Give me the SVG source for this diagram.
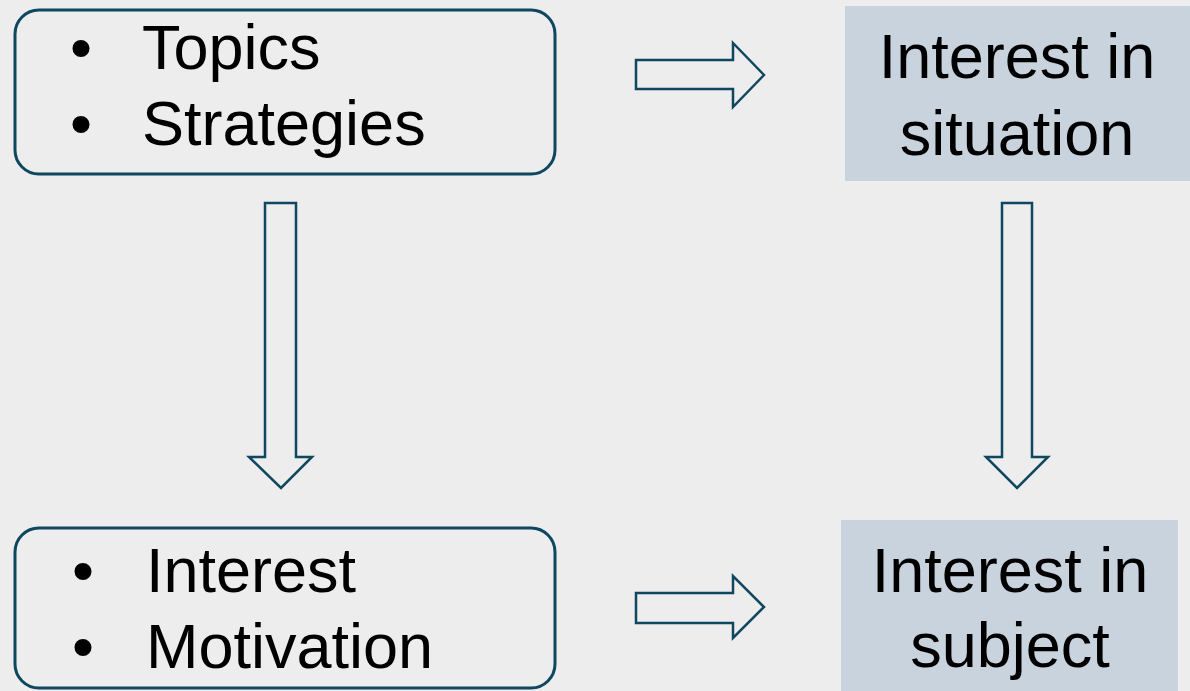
<svg xmlns="http://www.w3.org/2000/svg" width="1190" height="691" viewBox="0 0 1190 691">
<style>
.box{fill:none;stroke:#0f4761;stroke-width:3}
.tag{fill:#c8d3dd}
.arr{fill:none;stroke:#0f4761;stroke-width:2.5;stroke-linejoin:miter}
text{font-family:"Liberation Sans",Arial,sans-serif;font-size:63px;fill:#000}
.c{text-anchor:middle}
</style>
<rect width="1190" height="691" fill="#ededed"/>
<g id="node-topics">
<rect class="box" x="15" y="10" width="540" height="164" rx="24"/>
<text class="c" x="81" y="69">•</text>
<text x="142" y="69">Topics</text>
<text class="c" x="81" y="145">•</text>
<text x="142" y="145">Strategies</text>
</g>
<g id="node-interest-motivation">
<rect class="box" x="15" y="528" width="540" height="160" rx="24"/>
<text class="c" x="83" y="592">•</text>
<text x="146" y="592">Interest</text>
<text class="c" x="83" y="668">•</text>
<text x="146" y="668">Motivation</text>
</g>
<g id="node-situation">
<rect class="tag" x="845" y="6" width="345" height="175"/>
<text class="c" x="1017" y="78">Interest in</text>
<text class="c" x="1017" y="155">situation</text>
</g>
<g id="node-subject">
<rect class="tag" x="841" y="520" width="337" height="171"/>
<text class="c" x="1010" y="592">Interest in</text>
<text class="c" x="1010" y="667">subject</text>
</g>
<g id="connectors">
<path class="arr" d="M636 60 H733 V43 L764 75 L733 107 V89 H636 Z"/>
<path class="arr" d="M636 593 H733 V576 L764 607 L733 638 V623 H636 Z"/>
<path class="arr" d="M265 203 H296 V457 H312 L281 488 L249 457 H265 Z"/>
<path class="arr" d="M1002 203 H1032 V457 H1048 L1017 488 L986 457 H1002 Z"/>
</g>
</svg>
